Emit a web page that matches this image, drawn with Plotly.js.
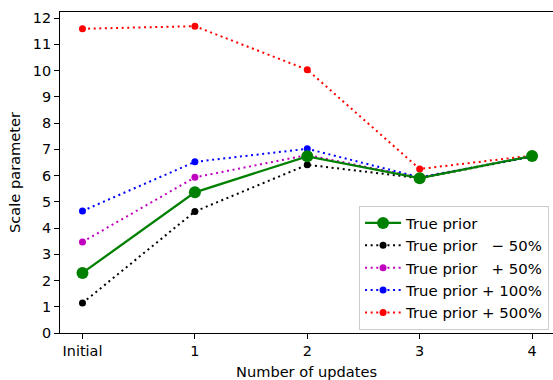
<!DOCTYPE html>
<html>
<head>
<meta charset="utf-8">
<script src="https://cdn.plot.ly/plotly-3.0.1.min.js"></script>
<style>
  html, body { margin: 0; padding: 0; background: #fff; }
  #chart { width: 553px; height: 380px; }
</style>
</head>
<body>
<div id="chart"></div>
<script>
// Update steps shown on the x axis
const categories = ["Initial", "1", "2", "3", "4"];
const steps = [0, 1, 2, 3, 4];

// Scale parameter estimates after each update, one series per prior
const truePrior      = [2.29, 5.36, 6.73, 5.90, 6.74];
const priorMinus50   = [1.14, 4.63, 6.41, 5.90, 6.72];
const priorPlus50    = [3.47, 5.93, 6.78, 5.92, 6.73];
const priorPlus100   = [4.65, 6.52, 7.02, 5.93, 6.73];
const priorPlus500   = [11.59, 11.69, 10.03, 6.25, 6.76];

const seriesNames = [
  "True prior",
  "True prior\u00a0\u00a0\u00a0\u2212 50%",
  "True prior\u00a0\u00a0\u00a0+ 50%",
  "True prior + 100%",
  "True prior + 500%"
];

const FONT = "DejaVu Sans, Liberation Sans, sans-serif";
const dotted = "2px,3.6px";

function dottedTrace(y, name, color, rank) {
  return {
    x: steps, y: y, name: name, type: "scatter", mode: "lines+markers",
    line: { color: color, width: 2, dash: dotted },
    marker: { color: color, size: 7 },
    legendrank: rank
  };
}

// The solid "true prior" series is drawn last so it sits on top,
// but legendrank keeps it first in the legend.
const traces = [
  dottedTrace(priorMinus50, seriesNames[1], "#000000", 2),
  dottedTrace(priorPlus50,  seriesNames[2], "#bf00bf", 3),
  dottedTrace(priorPlus100, seriesNames[3], "#0000ff", 4),
  dottedTrace(priorPlus500, seriesNames[4], "#ff0000", 5),
  {
    x: steps, y: truePrior, name: seriesNames[0], type: "scatter", mode: "lines+markers",
    line: { color: "#008000", width: 2.3 },
    marker: { color: "#008000", size: 12 },
    legendrank: 1
  }
];

const axisCommon = {
  showline: true, linecolor: "#000", linewidth: 1, mirror: true,
  ticks: "outside", ticklen: 5, tickwidth: 1, tickcolor: "#000",
  showgrid: false, zeroline: false,
  tickfont: { family: FONT, size: 14.4, color: "#000" },
  fixedrange: true
};

const layout = {
  width: 553, height: 380,
  margin: { l: 60, r: 0, t: 12, b: 47, pad: 0 },
  paper_bgcolor: "#fff", plot_bgcolor: "#fff",
  font: { family: FONT, size: 14.4, color: "#000" },
  showlegend: true,
  xaxis: Object.assign({}, axisCommon, {
    range: [-0.2, 4.186],
    tickmode: "array", tickvals: steps, ticktext: categories,
    title: { text: "Number of updates", font: { family: FONT, size: 14.6, color: "#000" }, standoff: 8 }
  }),
  yaxis: Object.assign({}, axisCommon, {
    range: [0, 12.23],
    tickmode: "array", tickvals: [0,1,2,3,4,5,6,7,8,9,10,11,12],
    title: { text: "Scale parameter", font: { family: FONT, size: 14.6, color: "#000" }, standoff: 8 }
  }),
  legend: {
    x: 0.992, y: 0.01, xanchor: "right", yanchor: "bottom",
    bgcolor: "rgba(255,255,255,0.8)", bordercolor: "#cccccc", borderwidth: 1,
    font: { family: FONT, size: 14.9, color: "#000" },
    itemwidth: 36
  }
};

Plotly.newPlot("chart", traces, layout, { displayModeBar: false, staticPlot: true });
</script>
</body>
</html>
